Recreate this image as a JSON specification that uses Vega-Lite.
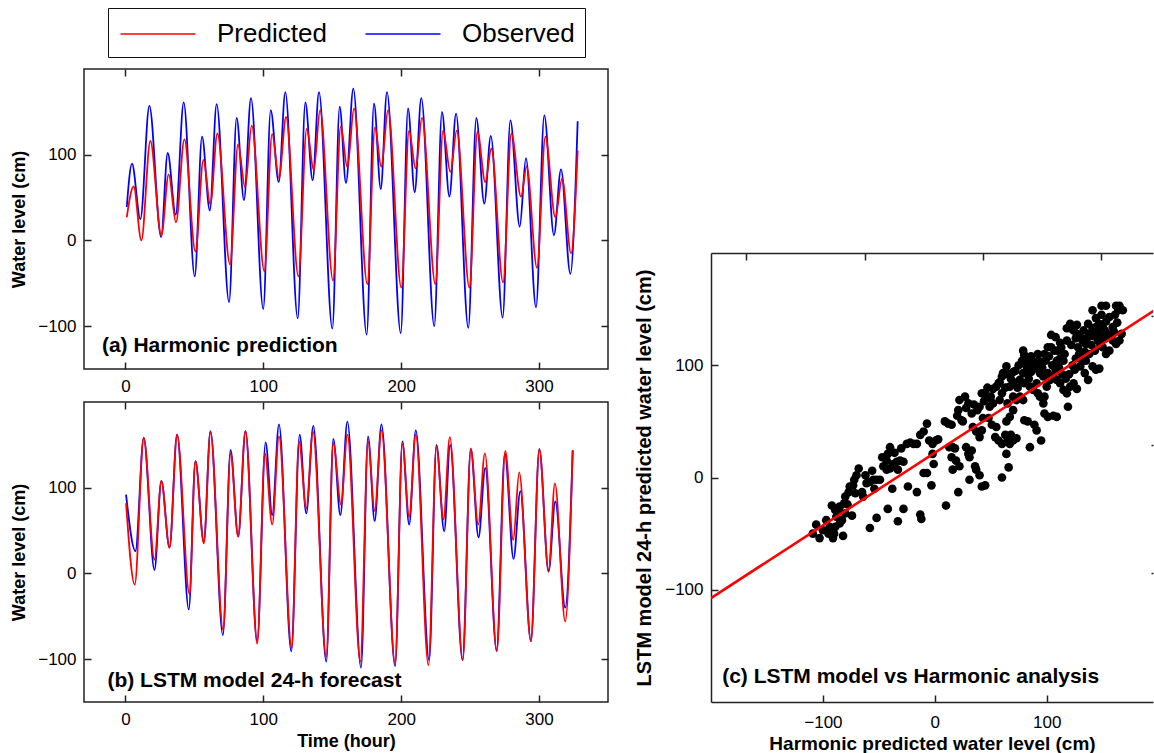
{
  "$schema": "https://vega.github.io/schema/vega-lite/v6.json",
  "background": "white",
  "padding": {"left": 9, "top": 6, "right": 0, "bottom": 0},
  "config": {
    "font": "Liberation Sans",
    "view": {"stroke": "#222", "strokeWidth": 1.5},
    "axis": {"domain": false, "grid": false, "tickSize": -7, "tickColor": "#222", "tickWidth": 1.5, "labelFont": "Liberation Sans", "labelFontSize": 17, "labelColor": "black", "titleFont": "Liberation Sans", "titleFontWeight": "bold", "titleColor": "black", "titleFontSize": 18}
  },
  "datasets": {
    "a": [
      {"h":1,"v":39,"s":"Observed"},{"h":4.8,"v":89.5,"s":"Observed"},{"h":10.9,"v":25,"s":"Observed"},{"h":17.4,"v":157,"s":"Observed"},{"h":25.9,"v":4,"s":"Observed"},{"h":30.7,"v":102,"s":"Observed"},{"h":36.5,"v":30,"s":"Observed"},{"h":42.3,"v":161,"s":"Observed"},{"h":50.3,"v":-42,"s":"Observed"},{"h":55.6,"v":121,"s":"Observed"},{"h":61.2,"v":35,"s":"Observed"},{"h":66.2,"v":159,"s":"Observed"},{"h":75.2,"v":-72,"s":"Observed"},{"h":80.7,"v":143,"s":"Observed"},{"h":86,"v":47,"s":"Observed"},{"h":91.1,"v":166,"s":"Observed"},{"h":100,"v":-80,"s":"Observed"},{"h":105.4,"v":152,"s":"Observed"},{"h":111.2,"v":68,"s":"Observed"},{"h":116,"v":173,"s":"Observed"},{"h":125,"v":-91,"s":"Observed"},{"h":130.5,"v":161,"s":"Observed"},{"h":135.8,"v":70,"s":"Observed"},{"h":140.4,"v":173,"s":"Observed"},{"h":150.1,"v":-103,"s":"Observed"},{"h":155.4,"v":156,"s":"Observed"},{"h":160,"v":67,"s":"Observed"},{"h":165.3,"v":177,"s":"Observed"},{"h":175,"v":-110,"s":"Observed"},{"h":180.3,"v":160,"s":"Observed"},{"h":185.2,"v":60,"s":"Observed"},{"h":189.7,"v":173,"s":"Observed"},{"h":199.7,"v":-108,"s":"Observed"},{"h":205,"v":154,"s":"Observed"},{"h":209.8,"v":56,"s":"Observed"},{"h":214.6,"v":166,"s":"Observed"},{"h":224,"v":-100,"s":"Observed"},{"h":229.6,"v":150,"s":"Observed"},{"h":235,"v":51,"s":"Observed"},{"h":239.8,"v":148,"s":"Observed"},{"h":248.7,"v":-102,"s":"Observed"},{"h":254.5,"v":143,"s":"Observed"},{"h":260.3,"v":43,"s":"Observed"},{"h":265,"v":122,"s":"Observed"},{"h":273.6,"v":-90,"s":"Observed"},{"h":279.2,"v":140,"s":"Observed"},{"h":286,"v":16,"s":"Observed"},{"h":290.5,"v":96,"s":"Observed"},{"h":297.8,"v":-78,"s":"Observed"},{"h":303.8,"v":146,"s":"Observed"},{"h":310.8,"v":6,"s":"Observed"},{"h":315.9,"v":83,"s":"Observed"},{"h":322.7,"v":-39,"s":"Observed"},{"h":328,"v":139,"s":"Observed"},
      {"h":1,"v":27,"s":"Predicted"},{"h":6,"v":63,"s":"Predicted"},{"h":11.6,"v":0,"s":"Predicted"},{"h":18.1,"v":116,"s":"Predicted"},{"h":26.1,"v":6,"s":"Predicted"},{"h":31.4,"v":77,"s":"Predicted"},{"h":36.7,"v":21,"s":"Predicted"},{"h":42.8,"v":118,"s":"Predicted"},{"h":50.8,"v":-13,"s":"Predicted"},{"h":56.6,"v":94,"s":"Predicted"},{"h":61.6,"v":42,"s":"Predicted"},{"h":66.7,"v":125,"s":"Predicted"},{"h":75.9,"v":-28,"s":"Predicted"},{"h":81.7,"v":112,"s":"Predicted"},{"h":86.8,"v":62,"s":"Predicted"},{"h":91.6,"v":134,"s":"Predicted"},{"h":100.8,"v":-36,"s":"Predicted"},{"h":106.4,"v":124,"s":"Predicted"},{"h":111.4,"v":73,"s":"Predicted"},{"h":116.5,"v":144,"s":"Predicted"},{"h":125.5,"v":-42,"s":"Predicted"},{"h":131.5,"v":130,"s":"Predicted"},{"h":136.6,"v":82,"s":"Predicted"},{"h":141.2,"v":152,"s":"Predicted"},{"h":150.6,"v":-47,"s":"Predicted"},{"h":156.2,"v":133,"s":"Predicted"},{"h":161,"v":85,"s":"Predicted"},{"h":165.8,"v":154,"s":"Predicted"},{"h":175.5,"v":-51,"s":"Predicted"},{"h":181,"v":132,"s":"Predicted"},{"h":185.6,"v":86,"s":"Predicted"},{"h":190.5,"v":152,"s":"Predicted"},{"h":200.1,"v":-55,"s":"Predicted"},{"h":205.7,"v":128,"s":"Predicted"},{"h":210.5,"v":84,"s":"Predicted"},{"h":215.1,"v":143,"s":"Predicted"},{"h":224.8,"v":-51,"s":"Predicted"},{"h":230.4,"v":128,"s":"Predicted"},{"h":235.7,"v":80,"s":"Predicted"},{"h":240.3,"v":128,"s":"Predicted"},{"h":249.5,"v":-55,"s":"Predicted"},{"h":255.3,"v":127,"s":"Predicted"},{"h":261,"v":68,"s":"Predicted"},{"h":265.4,"v":107,"s":"Predicted"},{"h":273.9,"v":-49,"s":"Predicted"},{"h":279.9,"v":125,"s":"Predicted"},{"h":286.9,"v":51,"s":"Predicted"},{"h":291,"v":86,"s":"Predicted"},{"h":298.5,"v":-32,"s":"Predicted"},{"h":304.6,"v":121,"s":"Predicted"},{"h":311.8,"v":27,"s":"Predicted"},{"h":316.7,"v":72,"s":"Predicted"},{"h":323.2,"v":-15,"s":"Predicted"},{"h":328,"v":105,"s":"Predicted"}
    ],
    "b": [
      {"h":0.5,"v":92,"s":"Observed"},{"h":7.3,"v":26,"s":"Observed"},{"h":13.3,"v":158,"s":"Observed"},{"h":21.1,"v":4,"s":"Observed"},{"h":26.1,"v":108,"s":"Observed"},{"h":32,"v":30,"s":"Observed"},{"h":37.5,"v":162,"s":"Observed"},{"h":46,"v":-42,"s":"Observed"},{"h":50.8,"v":131,"s":"Observed"},{"h":56.9,"v":37,"s":"Observed"},{"h":61.7,"v":166,"s":"Observed"},{"h":70.7,"v":-72,"s":"Observed"},{"h":76.3,"v":144,"s":"Observed"},{"h":81.8,"v":43,"s":"Observed"},{"h":87.1,"v":166,"s":"Observed"},{"h":95.6,"v":-79,"s":"Observed"},{"h":101.7,"v":153,"s":"Observed"},{"h":106.5,"v":68,"s":"Observed"},{"h":111.4,"v":174,"s":"Observed"},{"h":120.3,"v":-91,"s":"Observed"},{"h":126.4,"v":162,"s":"Observed"},{"h":131.2,"v":70,"s":"Observed"},{"h":136.3,"v":172,"s":"Observed"},{"h":145.7,"v":-103,"s":"Observed"},{"h":150.8,"v":157,"s":"Observed"},{"h":155.9,"v":68,"s":"Observed"},{"h":161,"v":177,"s":"Observed"},{"h":170.9,"v":-110,"s":"Observed"},{"h":176,"v":160,"s":"Observed"},{"h":180.8,"v":61,"s":"Observed"},{"h":185.7,"v":174,"s":"Observed"},{"h":195.6,"v":-108,"s":"Observed"},{"h":200.9,"v":154,"s":"Observed"},{"h":205.8,"v":57,"s":"Observed"},{"h":210.6,"v":167,"s":"Observed"},{"h":220.3,"v":-101,"s":"Observed"},{"h":225.6,"v":150,"s":"Observed"},{"h":231.2,"v":49,"s":"Observed"},{"h":235.5,"v":150,"s":"Observed"},{"h":244.5,"v":-101,"s":"Observed"},{"h":250.5,"v":145,"s":"Observed"},{"h":256.1,"v":42,"s":"Observed"},{"h":261,"v":123,"s":"Observed"},{"h":269.2,"v":-90,"s":"Observed"},{"h":275.2,"v":140,"s":"Observed"},{"h":281.5,"v":17,"s":"Observed"},{"h":286.4,"v":96,"s":"Observed"},{"h":294.1,"v":-79,"s":"Observed"},{"h":300.2,"v":145,"s":"Observed"},{"h":306.9,"v":2,"s":"Observed"},{"h":311.8,"v":84,"s":"Observed"},{"h":319,"v":-40,"s":"Observed"},{"h":324.4,"v":143,"s":"Observed"},
      {"h":0.5,"v":82,"s":"Predicted"},{"h":6.8,"v":-13,"s":"Predicted"},{"h":13.3,"v":158,"s":"Predicted"},{"h":21.1,"v":16,"s":"Predicted"},{"h":26.1,"v":108,"s":"Predicted"},{"h":32,"v":30,"s":"Predicted"},{"h":37.5,"v":162,"s":"Predicted"},{"h":46.5,"v":-24,"s":"Predicted"},{"h":50.8,"v":131,"s":"Predicted"},{"h":56.9,"v":35,"s":"Predicted"},{"h":61.7,"v":165,"s":"Predicted"},{"h":70.9,"v":-66,"s":"Predicted"},{"h":76.3,"v":140,"s":"Predicted"},{"h":81.8,"v":43,"s":"Predicted"},{"h":87.1,"v":166,"s":"Predicted"},{"h":95.6,"v":-82,"s":"Predicted"},{"h":101.2,"v":140,"s":"Predicted"},{"h":106.5,"v":57,"s":"Predicted"},{"h":111.4,"v":160,"s":"Predicted"},{"h":120.6,"v":-87,"s":"Predicted"},{"h":125.9,"v":154,"s":"Predicted"},{"h":131.2,"v":76,"s":"Predicted"},{"h":136,"v":166,"s":"Predicted"},{"h":145.7,"v":-97,"s":"Predicted"},{"h":150.8,"v":152,"s":"Predicted"},{"h":156.4,"v":80,"s":"Predicted"},{"h":161,"v":162,"s":"Predicted"},{"h":170.4,"v":-103,"s":"Predicted"},{"h":176,"v":154,"s":"Predicted"},{"h":180.8,"v":73,"s":"Predicted"},{"h":185.7,"v":167,"s":"Predicted"},{"h":195.6,"v":-105,"s":"Predicted"},{"h":200.9,"v":152,"s":"Predicted"},{"h":205.8,"v":66,"s":"Predicted"},{"h":210.6,"v":162,"s":"Predicted"},{"h":219.8,"v":-107,"s":"Predicted"},{"h":225.6,"v":148,"s":"Predicted"},{"h":230.7,"v":63,"s":"Predicted"},{"h":235.3,"v":159,"s":"Predicted"},{"h":244.7,"v":-101,"s":"Predicted"},{"h":250.5,"v":146,"s":"Predicted"},{"h":255.9,"v":57,"s":"Predicted"},{"h":260.7,"v":140,"s":"Predicted"},{"h":269.4,"v":-91,"s":"Predicted"},{"h":275.5,"v":143,"s":"Predicted"},{"h":281.3,"v":39,"s":"Predicted"},{"h":285.6,"v":118,"s":"Predicted"},{"h":294.1,"v":-79,"s":"Predicted"},{"h":300.2,"v":145,"s":"Predicted"},{"h":306.9,"v":3,"s":"Predicted"},{"h":311.5,"v":105,"s":"Predicted"},{"h":319,"v":-56,"s":"Predicted"},{"h":324.4,"v":144,"s":"Predicted"}
    ],
    "c": [
      {"x":-106,"y":-42},{"x":-103,"y":-54},{"x":-109,"y":-50},{"x":-100,"y":-47},{"x":-95,"y":-50},{"x":-91,"y":-54},{"x":-90,"y":-50},{"x":-89,"y":-44},{"x":-85,"y":-41},{"x":-82,"y":-52},
      {"x":-88,"y":-35},{"x":-92,"y":-25},{"x":-89,"y":-29},{"x":-85,"y":-26},{"x":-81,"y":-23},{"x":-80,"y":-17},{"x":-77,"y":-13},{"x":-76,"y":-8},{"x":-73,"y":-7},{"x":-71,"y":-14},
      {"x":-70,"y":2},{"x":-68,"y":8},{"x":-80,"y":-32},{"x":-74,"y":-34},{"x":-83,"y":-38},{"x":-58,"y":-45},{"x":-52,"y":-36},{"x":-64,"y":-17},{"x":-65,"y":-13},{"x":-61,"y":-5},
      {"x":-58,"y":-4},{"x":-55,"y":-2},{"x":-52,"y":-2},{"x":-54,"y":-10},{"x":-49,"y":-2},{"x":-46,"y":10},{"x":-43,"y":15},{"x":-42,"y":21},{"x":-40,"y":27},{"x":-43,"y":7},
      {"x":-40,"y":8},{"x":-37,"y":12},{"x":-34,"y":14},{"x":-31,"y":15},{"x":-28,"y":14},{"x":-33,"y":7},{"x":-38,"y":-10},{"x":-42,"y":-28},{"x":-33,"y":-39},{"x":-28,"y":-28},
      {"x":-24,"y":-8},{"x":-16,"y":-13},{"x":-13,"y":-33},{"x":-12,"y":-37},{"x":-25,"y":30},{"x":-22,"y":31},{"x":-19,"y":30},{"x":-16,"y":30},{"x":-13,"y":38},{"x":-10,"y":41},
      {"x":-7,"y":48},{"x":-5,"y":33},{"x":-2,"y":30},{"x":1,"y":33},{"x":3,"y":34},{"x":-2,"y":21},{"x":-1,"y":12},{"x":-7,"y":4},{"x":-10,"y":4},{"x":-3,"y":-7},
      {"x":10,"y":-25},{"x":21,"y":-13},{"x":31,"y":-2},{"x":42,"y":-8},{"x":45,"y":-7},{"x":60,"y":0},{"x":66,"y":9},{"x":40,"y":2},{"x":36,"y":10},{"x":37,"y":7},
      {"x":16,"y":7},{"x":19,"y":15},{"x":22,"y":10},{"x":31,"y":18},{"x":30,"y":21},{"x":33,"y":24},{"x":28,"y":27},{"x":15,"y":18},{"x":16,"y":27},{"x":18,"y":26},
      {"x":13,"y":27},{"x":9,"y":50},{"x":12,"y":48},{"x":15,"y":47},{"x":21,"y":60},{"x":24,"y":51},{"x":25,"y":50},{"x":22,"y":69},{"x":27,"y":72},{"x":30,"y":66},
      {"x":33,"y":57},{"x":34,"y":45},{"x":37,"y":41},{"x":40,"y":36},{"x":42,"y":42},{"x":43,"y":53},{"x":40,"y":63},{"x":42,"y":75},{"x":45,"y":75},{"x":46,"y":70},
      {"x":49,"y":63},{"x":52,"y":66},{"x":48,"y":53},{"x":51,"y":47},{"x":54,"y":36},{"x":55,"y":45},{"x":57,"y":33},{"x":60,"y":30},{"x":63,"y":38},{"x":64,"y":21},
      {"x":65,"y":33},{"x":67,"y":30},{"x":68,"y":38},{"x":70,"y":33},{"x":73,"y":35},{"x":64,"y":50},{"x":67,"y":54},{"x":70,"y":60},{"x":65,"y":66},{"x":58,"y":69},
      {"x":55,"y":81},{"x":52,"y":79},{"x":57,"y":84},{"x":60,"y":90},{"x":61,"y":93},{"x":64,"y":99},{"x":62,"y":93},{"x":67,"y":81},{"x":70,"y":72},{"x":73,"y":69},
      {"x":76,"y":72},{"x":79,"y":69},{"x":80,"y":51},{"x":83,"y":50},{"x":85,"y":27},{"x":89,"y":47},{"x":91,"y":42},{"x":95,"y":33},{"x":76,"y":87},{"x":79,"y":93},
      {"x":82,"y":99},{"x":83,"y":93},{"x":80,"y":109},{"x":82,"y":106},{"x":85,"y":81},{"x":88,"y":78},{"x":91,"y":84},{"x":92,"y":75},{"x":94,"y":72},{"x":97,"y":66},
      {"x":98,"y":57},{"x":101,"y":54},{"x":106,"y":55},{"x":109,"y":54},{"x":98,"y":72},{"x":100,"y":81},{"x":103,"y":87},{"x":106,"y":90},{"x":109,"y":87},{"x":112,"y":84},
      {"x":115,"y":78},{"x":118,"y":75},{"x":119,"y":63},{"x":121,"y":81},{"x":124,"y":84},{"x":127,"y":79},{"x":94,"y":93},{"x":97,"y":90},{"x":101,"y":93},{"x":92,"y":97},
      {"x":95,"y":102},{"x":98,"y":110},{"x":101,"y":116},{"x":104,"y":127},{"x":107,"y":113},{"x":110,"y":113},{"x":113,"y":116},{"x":115,"y":104},{"x":118,"y":122},{"x":121,"y":133},
      {"x":124,"y":131},{"x":127,"y":128},{"x":130,"y":125},{"x":132,"y":122},{"x":135,"y":119},{"x":125,"y":96},{"x":130,"y":99},{"x":134,"y":93},{"x":137,"y":87},{"x":135,"y":104},
      {"x":138,"y":110},{"x":141,"y":99},{"x":144,"y":96},{"x":147,"y":97},{"x":143,"y":113},{"x":146,"y":122},{"x":149,"y":125},{"x":150,"y":116},{"x":153,"y":110},{"x":156,"y":113},
      {"x":159,"y":122},{"x":162,"y":119},{"x":165,"y":122},{"x":167,"y":128},{"x":138,"y":128},{"x":141,"y":133},{"x":137,"y":137},{"x":144,"y":134},{"x":147,"y":137},{"x":152,"y":131},
      {"x":153,"y":139},{"x":156,"y":143},{"x":161,"y":145},{"x":164,"y":149},{"x":165,"y":153},{"x":168,"y":149},{"x":162,"y":153},{"x":153,"y":153},{"x":149,"y":153},{"x":141,"y":149},
      {"x":149,"y":145},{"x":159,"y":134},{"x":127,"y":136},{"x":121,"y":137},{"x":118,"y":133},{"x":104,"y":116},{"x":109,"y":104},{"x":112,"y":106},{"x":92,"y":110},{"x":88,"y":103},
      {"x":79,"y":113},{"x":86,"y":94},
      {"x":60,"y":75},{"x":63,"y":80},{"x":68,"y":88},{"x":72,"y":95},{"x":75,"y":100},{"x":78,"y":104},{"x":70,"y":85},{"x":66,"y":92},{"x":74,"y":80},{"x":80,"y":84},
      {"x":84,"y":88},{"x":87,"y":96},{"x":90,"y":100},{"x":86,"y":108},{"x":93,"y":104},{"x":96,"y":98},{"x":99,"y":104},{"x":102,"y":108},{"x":105,"y":100},{"x":108,"y":96},
      {"x":111,"y":98},{"x":114,"y":92},{"x":117,"y":88},{"x":120,"y":92},{"x":123,"y":100},{"x":126,"y":106},{"x":129,"y":110},{"x":132,"y":104},{"x":128,"y":116},{"x":134,"y":112},
      {"x":136,"y":124},{"x":140,"y":118},{"x":142,"y":126},{"x":145,"y":130},{"x":148,"y":118},{"x":151,"y":124},{"x":154,"y":128},{"x":157,"y":126},{"x":160,"y":130},{"x":163,"y":138},
      {"x":150,"y":134},{"x":144,"y":142},{"x":133,"y":131},{"x":126,"y":124},{"x":122,"y":118},{"x":116,"y":110},{"x":112,"y":120},{"x":108,"y":125},{"x":84,"y":100},{"x":70,"y":94},
      {"x":58,"y":85},{"x":50,"y":72},{"x":47,"y":80},{"x":28,"y":62},{"x":35,"y":65},{"x":38,"y":60},{"x":44,"y":68},{"x":20,"y":55},
      {"x":-97,"y":-38},{"x":-94,"y":-44},{"x":-86,"y":-30},{"x":-78,"y":-24},{"x":-72,"y":-2},{"x":-62,"y":2},{"x":-56,"y":6},{"x":-47,"y":18},{"x":-36,"y":22},{"x":-30,"y":26}
    ],
    "fit": [{"x":-200,"y":-107.4},{"x":200,"y":151.4}]
  },
  "spacing": 24,
  "hconcat": [
    {
      "spacing": 5,
      "resolve": {"legend": {"color": "independent"}},
      "vconcat": [
        {
          "width": 524, "height": 300,
          "layer": [
            {
              "layer": [
                {
                  "data": {"name": "a"},
                  "transform": [{"filter": "datum.s === 'Observed'"}],
                  "mark": {"type": "line", "interpolate": "monotone", "strokeWidth": 1.8, "clip": true},
                  "encoding": {
                    "x": {"field": "h", "type": "quantitative", "title": null, "scale": {"domain": [-30, 350], "nice": false}, "axis": {"orient": "bottom", "values": [0, 100, 200, 300], "labelPadding": 16}},
                    "y": {"field": "v", "type": "quantitative", "title": "Water level (cm)", "scale": {"domain": [-150, 200], "nice": false}, "axis": {"orient": "left", "values": [-100, 0, 100], "labelPadding": 15, "titlePadding": 9}},
                    "color": {"field": "s", "type": "nominal", "scale": {"domain": ["Predicted", "Observed"], "range": ["#ff0000", "#0000ff"]},
                      "legend": {"orient": "none", "legendX": 24, "legendY": -61, "direction": "horizontal", "title": null, "strokeColor": "#111", "padding": 10, "symbolType": "M-2.5,0H2.5", "symbolSize": 900, "symbolOffset": 24, "symbolStrokeWidth": 1.3, "labelFontSize": 26, "labelFont": "Liberation Sans", "labelColor": "black", "labelOffset": 43, "columnPadding": 35}}
                  }
                },
                {
                  "data": {"name": "a"},
                  "transform": [{"filter": "datum.s === 'Predicted'"}],
                  "mark": {"type": "line", "interpolate": "monotone", "strokeWidth": 1.8, "clip": true},
                  "encoding": {
                    "x": {"field": "h", "type": "quantitative", "title": null, "scale": {"domain": [-30, 350], "nice": false}, "axis": {"orient": "bottom", "values": [0, 100, 200, 300], "labelPadding": 16}},
                    "y": {"field": "v", "type": "quantitative", "title": "Water level (cm)", "scale": {"domain": [-150, 200], "nice": false}, "axis": {"orient": "left", "values": [-100, 0, 100], "labelPadding": 15, "titlePadding": 9}},
                    "color": {"field": "s", "type": "nominal", "scale": {"domain": ["Predicted", "Observed"], "range": ["#ff0000", "#0000ff"]},
                      "legend": {"orient": "none", "legendX": 24, "legendY": -61, "direction": "horizontal", "title": null, "strokeColor": "#111", "padding": 10, "symbolType": "M-2.5,0H2.5", "symbolSize": 900, "symbolOffset": 24, "symbolStrokeWidth": 1.3, "labelFontSize": 26, "labelFont": "Liberation Sans", "labelColor": "black", "labelOffset": 43, "columnPadding": 35}}
                  }
                },
                {
                  "data": {"values": [{}]},
                  "mark": {"type": "text", "align": "left", "baseline": "alphabetic", "fontSize": 21, "fontWeight": "bold", "font": "Liberation Sans", "color": "black"},
                  "encoding": {
                    "x": {"datum": -17, "type": "quantitative", "title": null},
                    "y": {"datum": -130, "type": "quantitative", "title": "Water level (cm)"},
                    "text": {"value": "(a) Harmonic prediction"}
                  }
                }
              ]
            },
            {
              "data": {"name": "a"},
              "mark": {"type": "point", "opacity": 0},
              "encoding": {
                "x": {"field": "h", "type": "quantitative", "title": null, "scale": {"domain": [-30, 350], "nice": false}, "axis": {"orient": "top", "values": [0, 100, 200, 300], "labels": false}},
                "y": {"field": "v", "type": "quantitative", "title": null, "scale": {"domain": [-150, 200], "nice": false}, "axis": {"orient": "right", "values": [-100, 0, 100], "labels": false}}
              }
            }
          ],
          "resolve": {"scale": {"x": "independent", "y": "independent"}}
        },
        {
          "width": 524, "height": 300,
          "layer": [
            {
              "layer": [
                {
                  "data": {"name": "b"},
                  "transform": [{"filter": "datum.s === 'Observed'"}],
                  "mark": {"type": "line", "interpolate": "monotone", "strokeWidth": 1.8, "clip": true},
                  "encoding": {
                    "x": {"field": "h", "type": "quantitative", "title": "Time (hour)", "scale": {"domain": [-30, 350], "nice": false}, "axis": {"orient": "bottom", "values": [0, 100, 200, 300], "labelPadding": 16, "titlePadding": 5}},
                    "y": {"field": "v", "type": "quantitative", "title": "Water level (cm)", "scale": {"domain": [-150, 200], "nice": false}, "axis": {"orient": "left", "values": [-100, 0, 100], "labelPadding": 15, "titlePadding": 9}},
                    "color": {"field": "s", "type": "nominal", "scale": {"domain": ["Predicted", "Observed"], "range": ["#ff0000", "#0000ff"]}, "legend": null}
                  }
                },
                {
                  "data": {"name": "b"},
                  "transform": [{"filter": "datum.s === 'Predicted'"}],
                  "mark": {"type": "line", "interpolate": "monotone", "strokeWidth": 1.8, "clip": true},
                  "encoding": {
                    "x": {"field": "h", "type": "quantitative", "title": "Time (hour)", "scale": {"domain": [-30, 350], "nice": false}, "axis": {"orient": "bottom", "values": [0, 100, 200, 300], "labelPadding": 16, "titlePadding": 5}},
                    "y": {"field": "v", "type": "quantitative", "title": "Water level (cm)", "scale": {"domain": [-150, 200], "nice": false}, "axis": {"orient": "left", "values": [-100, 0, 100], "labelPadding": 15, "titlePadding": 9}},
                    "color": {"field": "s", "type": "nominal", "scale": {"domain": ["Predicted", "Observed"], "range": ["#ff0000", "#0000ff"]}, "legend": null}
                  }
                },
                {
                  "data": {"values": [{}]},
                  "mark": {"type": "text", "align": "left", "baseline": "alphabetic", "fontSize": 21, "fontWeight": "bold", "font": "Liberation Sans", "color": "black"},
                  "encoding": {
                    "x": {"datum": -13, "type": "quantitative", "title": "Time (hour)"},
                    "y": {"datum": -132, "type": "quantitative", "title": "Water level (cm)"},
                    "text": {"value": "(b) LSTM model 24-h forecast"}
                  }
                }
              ]
            },
            {
              "data": {"name": "b"},
              "mark": {"type": "point", "opacity": 0},
              "encoding": {
                "x": {"field": "h", "type": "quantitative", "title": null, "scale": {"domain": [-30, 350], "nice": false}, "axis": {"orient": "top", "values": [0, 100, 200, 300], "labels": false}},
                "y": {"field": "v", "type": "quantitative", "title": null, "scale": {"domain": [-150, 200], "nice": false}, "axis": {"orient": "right", "values": [-100, 0, 100], "labels": false}}
              }
            }
          ],
          "resolve": {"scale": {"x": "independent", "y": "independent"}}
        }
      ]
    },
    {
      "spacing": 8,
      "vconcat": [
        {
          "width": 442, "height": 168,
          "view": {"stroke": null},
          "data": {"values": [{}]},
          "mark": {"type": "text", "text": ""}
        },
        {
          "width": 442, "height": 449,
          "view": {"stroke": null},
          "layer": [
            {
              "layer": [
                {
                  "data": {"name": "c"},
                  "mark": {"type": "circle", "size": 75, "color": "black", "opacity": 1},
                  "encoding": {
                    "x": {"field": "x", "type": "quantitative", "title": "Harmonic predicted water level (cm)", "scale": {"domain": [-200, 195], "nice": false}, "axis": {"orient": "bottom", "values": [-100, 0, 100], "labelPadding": 19, "titlePadding": 4, "titleFontSize": 19, "domain": true, "domainColor": "#222", "domainWidth": 1.5}},
                    "y": {"field": "y", "type": "quantitative", "title": "LSTM model 24-h predicted water level (cm)", "scale": {"domain": [-200, 200], "nice": false}, "axis": {"orient": "left", "values": [-100, 0, 100], "labelPadding": 15, "titlePadding": 10, "titleFontSize": 20, "domain": true, "domainColor": "#222", "domainWidth": 1.5}}
                  }
                },
                {
                  "data": {"name": "fit"},
                  "mark": {"type": "line", "color": "#ff0000", "strokeWidth": 2.6, "clip": true},
                  "encoding": {
                    "x": {"field": "x", "type": "quantitative", "title": "Harmonic predicted water level (cm)"},
                    "y": {"field": "y", "type": "quantitative", "title": "LSTM model 24-h predicted water level (cm)"}
                  }
                },
                {
                  "data": {"values": [{}]},
                  "mark": {"type": "text", "align": "left", "baseline": "alphabetic", "fontSize": 21, "fontWeight": "bold", "font": "Liberation Sans", "color": "black"},
                  "encoding": {
                    "x": {"datum": -190, "type": "quantitative", "title": "Harmonic predicted water level (cm)"},
                    "y": {"datum": -183, "type": "quantitative", "title": "LSTM model 24-h predicted water level (cm)"},
                    "text": {"value": "(c) LSTM model vs Harmonic analysis"}
                  }
                }
              ]
            },
            {
              "data": {"name": "c"},
              "mark": {"type": "point", "opacity": 0},
              "encoding": {
                "x": {"field": "x", "type": "quantitative", "title": null, "scale": {"domain": [-130, 244], "nice": false}, "axis": {"orient": "top", "values": [-100, 0, 100, 200], "labels": false, "domain": true, "domainColor": "#222", "domainWidth": 1.5}},
                "y": {"field": "y", "type": "quantitative", "title": null, "scale": {"domain": [-200, 149], "nice": false}, "axis": {"orient": "right", "values": [-100, 0, 100], "labels": false, "tickSize": -2}}
              }
            }
          ],
          "resolve": {"scale": {"x": "independent", "y": "independent"}}
        }
      ]
    }
  ]
}
